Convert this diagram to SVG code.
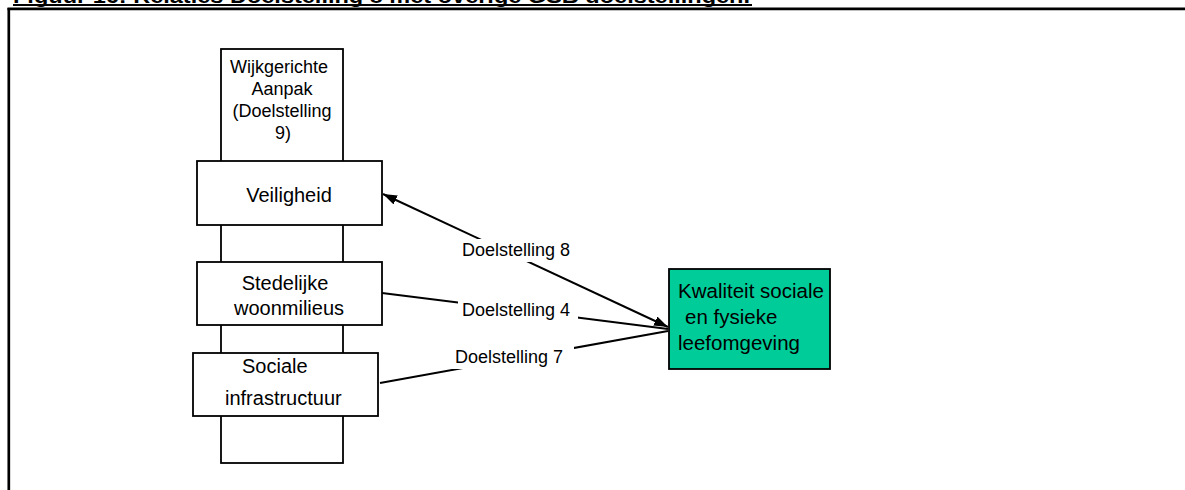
<svg xmlns="http://www.w3.org/2000/svg" width="1185" height="490" viewBox="0 0 1185 490">
<defs>
<style>
.box{fill:#fff;stroke:#000;stroke-width:1.8}
.t{font-family:"Liberation Sans",Arial,sans-serif;fill:#000}
.conn{stroke:#000;stroke-width:2;fill:none}
.lbl{font-family:"Liberation Sans",Arial,sans-serif;font-size:18px;fill:#000}
</style>
<marker id="ah" viewBox="0 0 14 10" refX="14" refY="5" markerWidth="14" markerHeight="10" markerUnits="userSpaceOnUse" orient="auto-start-reverse">
<path d="M0,0 L14,5 L0,10 z" fill="#000"/>
</marker>
</defs>
<rect width="1185" height="490" fill="#fff"/>
<g id="title">
<text class="t" x="13" y="3" font-size="20" font-weight="bold" textLength="737" lengthAdjust="spacingAndGlyphs">Figuur 16: Relaties Doelstelling 8 met overige GSB doelstellingen.</text>
<line x1="13" y1="5" x2="752" y2="5" stroke="#000" stroke-width="2"/>
</g>
<g id="frame">
<line x1="7.5" y1="8.8" x2="1185" y2="8.8" stroke="#000" stroke-width="2.7"/>
<line x1="8.8" y1="8" x2="8.8" y2="490" stroke="#000" stroke-width="2.7"/>
</g>
<g id="wijkgericht">
<rect class="box" x="221" y="49" width="122" height="414"/>
<text class="t" font-size="18" text-anchor="middle"><tspan x="279" y="73">Wijkgerichte</tspan><tspan x="282" y="95">Aanpak</tspan><tspan x="282" y="117">(Doelstelling</tspan><tspan x="283" y="139">9)</tspan></text>
</g>
<g id="veiligheid">
<rect class="box" x="197" y="161" width="185" height="64"/>
<text class="t" font-size="20" x="289" y="201.5" text-anchor="middle">Veiligheid</text>
</g>
<g id="stedelijke">
<rect class="box" x="197" y="262" width="185" height="63"/>
<text class="t" font-size="20" text-anchor="middle"><tspan x="285" y="290">Stedelijke</tspan><tspan x="289" y="315">woonmilieus</tspan></text>
</g>
<g id="sociale">
<rect class="box" x="193" y="353" width="185" height="63"/>
<text class="t" font-size="20"><tspan x="242" y="372.5">Sociale</tspan><tspan x="225" y="405">infrastructuur</tspan></text>
</g>
<g id="kwaliteit">
<rect x="669" y="269" width="161" height="100" fill="#00CC99" stroke="#000" stroke-width="1.8"/>
<text class="t" font-size="20.5"><tspan x="678" y="298">Kwaliteit sociale</tspan><tspan x="685" y="324">en fysieke</tspan><tspan x="678" y="350">leefomgeving</tspan></text>
</g>
<g id="connectors">
<line class="conn" x1="383" y1="194" x2="668" y2="327" marker-start="url(#ah)" marker-end="url(#ah)"/>
<line class="conn" x1="382" y1="293" x2="668" y2="329"/>
<line class="conn" x1="380" y1="383" x2="668" y2="331"/>
<rect x="458" y="239" width="118" height="23" fill="#fff"/>
<rect x="458" y="299" width="120" height="21" fill="#fff"/>
<rect x="452" y="345" width="122" height="24" fill="#fff"/>
<text class="lbl" x="462" y="256">Doelstelling 8</text>
<text class="lbl" x="462" y="316">Doelstelling 4</text>
<text class="lbl" x="455" y="363">Doelstelling 7</text>
</g>
</svg>
